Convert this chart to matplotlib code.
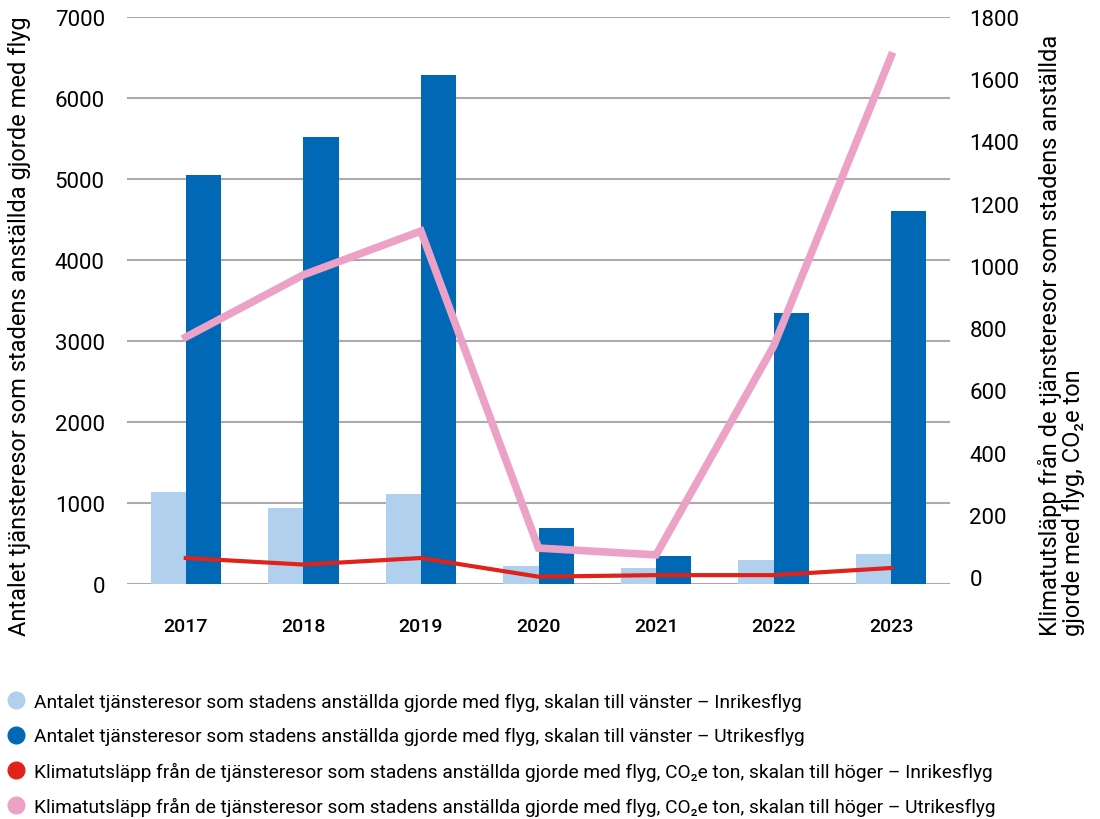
import numpy as np
import matplotlib.pyplot as plt
from matplotlib.lines import Line2D

plt.rcParams['font.family'] = ['Roboto', 'DejaVu Sans']

# Data
years = ['2017', '2018', '2019', '2020', '2021', '2022', '2023']
resor_inrikes = [1140, 940, 1110, 220, 200, 300, 370]
resor_utrikes = [5050, 5520, 6290, 690, 350, 3350, 4610]
co2_inrikes = [61, 40, 61, 1, 6, 6, 29]
co2_utrikes = [771, 971, 1112, 93, 71, 742, 1675]

c_light = '#B0D0EE'
c_dark = '#0068B4'
c_red = '#E0231A'
c_pink = '#ECA1C7'

fig = plt.figure(figsize=(11, 8.2), dpi=100)
ax = fig.add_axes([127 / 1100, 1 - 585 / 820, (950 - 127) / 1100, (585 - 18) / 820])
ax2 = ax.twinx()

x = np.arange(len(years))
w = 0.3
ax.bar(x - w / 2, resor_inrikes, width=w, color=c_light, zorder=2)
ax.bar(x + w / 2, resor_utrikes, width=w, color=c_dark, zorder=2)

ax.set_xlim(-0.5, len(years) - 0.5)
ax.set_ylim(0, 7000)
ax.set_yticks(range(0, 7001, 1000))
ax.set_xticks(x)
ax.set_xticklabels(years, fontsize=14, fontweight='medium')
ax.tick_params(axis='y', labelsize=16, length=0, pad=16)
ax.tick_params(axis='x', length=0, pad=24)
ax.grid(axis='y', color='#ABABAB', linewidth=1.5, zorder=0)
ax.set_axisbelow(True)
for s in ax.spines.values():
    s.set_visible(False)

ax2.plot(x, co2_utrikes, color=c_pink, linewidth=5.5, solid_joinstyle='miter')
ax2.plot(x, co2_inrikes, color=c_red, linewidth=3)
ax2.set_ylim(-22.5, 1800)
ax2.set_yticks(range(0, 1801, 200))
ax2.tick_params(axis='y', labelsize=16, length=0, pad=14)
for s in ax2.spines.values():
    s.set_visible(False)

# axis titles
fig.text(20 / 1100, 1 - 636 / 820,
         'Antalet tjänsteresor som stadens anställda gjorde med flyg',
         rotation=90, ha='center', va='bottom', fontsize=17)
fig.text(1038 / 1100, 1 - 636 / 820,
         'Klimatutsläpp från de tjänsteresor som stadens anställda\ngjorde med flyg, CO\u2082e ton',
         rotation=90, ha='left', va='bottom', multialignment='left',
         fontsize=17, linespacing=1.0)

# legend
labels = [
    'Antalet tjänsteresor som stadens anställda gjorde med flyg, skalan till vänster – Inrikesflyg',
    'Antalet tjänsteresor som stadens anställda gjorde med flyg, skalan till vänster – Utrikesflyg',
    'Klimatutsläpp från de tjänsteresor som stadens anställda gjorde med flyg, CO\u2082e ton, skalan till höger – Inrikesflyg',
    'Klimatutsläpp från de tjänsteresor som stadens anställda gjorde med flyg, CO\u2082e ton, skalan till höger – Utrikesflyg',
]
handles = [Line2D([], [], marker='o', linestyle='none', markersize=12,
                  markerfacecolor=c, markeredgecolor=c)
           for c in [c_light, c_dark, c_red, c_pink]]
fig.legend(handles, labels, loc='upper left', bbox_to_anchor=(4 / 1100, 1 - 690 / 820),
           frameon=False, fontsize=13.8, handlelength=0.9, handletextpad=0.45,
           labelspacing=0.85, borderaxespad=0, borderpad=0.2)

fig.savefig('out.png', dpi=100)
